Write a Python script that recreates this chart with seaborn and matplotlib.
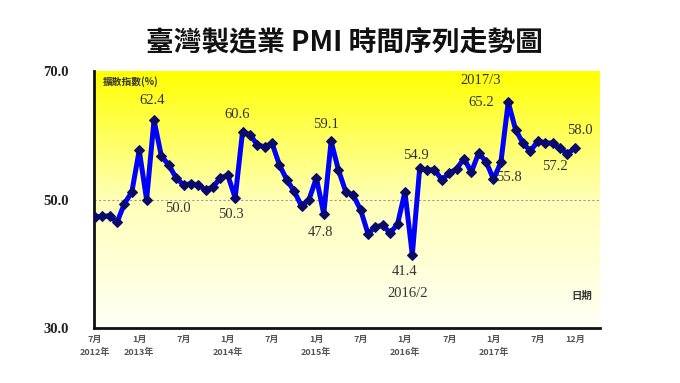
import numpy as np
import matplotlib
matplotlib.use("Agg")
import matplotlib.pyplot as plt
from matplotlib.colors import LinearSegmentedColormap
import seaborn as sns

# Taiwan manufacturing PMI, 2012/7 - 2017/12
pmi_2012 = [47.3, 47.4, 47.5, 46.5, 49.4, 51.2]
pmi_2013 = [57.7, 50.0, 62.4, 56.8, 55.4, 53.4, 52.3, 52.5, 52.3, 51.5, 52.0, 53.4]
pmi_2014 = [53.8, 50.3, 60.6, 60.1, 58.6, 58.2, 58.8, 55.4, 53.1, 51.3, 49.0, 50.0]
pmi_2015 = [53.4, 47.8, 59.1, 54.6, 51.2, 50.7, 48.4, 44.7, 45.8, 46.0, 44.8, 46.2]
pmi_2016 = [51.2, 41.4, 54.9, 54.6, 54.7, 53.1, 54.1, 54.8, 56.4, 54.3, 57.3, 55.9]
pmi_2017 = [53.2, 55.8, 65.2, 60.9, 58.8, 57.6, 59.1, 58.9, 58.8, 58.0, 57.2, 58.0]

pmi = pmi_2012 + pmi_2013 + pmi_2014 + pmi_2015 + pmi_2016 + pmi_2017
months = np.arange(len(pmi))

tick_pos = [0, 6, 12, 18, 24, 30, 36, 42, 48, 54, 60, 65]
tick_labels = ["7月\n2012年", "1月\n2013年", "7月", "1月\n2014年", "7月", "1月\n2015年",
               "7月", "1月\n2016年", "7月", "1月\n2017年", "7月", "12月"]

# (index, text, offset in px)
notes = [(8, "62.4", (-2, 20)), (7, "50.0", (31, -9)), (20, "60.6", (-5, 17)),
         (19, "50.3", (-4, -17)), (32, "59.1", (-5, 17)), (31, "47.8", (-3, -19)),
         (44, "54.9", (-4, 13)), (43, "41.4", (-8, -17)), (43, "2016/2", (-5, -39)),
         (56, "65.2", (-27, 0)), (56, "2017/3", (-28, 22)), (55, "55.8", (8, -15)),
         (64, "57.2", (-12, -13)), (65, "58.0", (5, 18))]

sns.set_style("white")
plt.rcParams['font.family'] = ['Liberation Serif', 'Noto Sans CJK TC']

fig = plt.figure(figsize=(6.8, 3.83), dpi=100)
ax = fig.add_axes([0.138, 0.1436, 0.744, 0.67])

# yellow gradient background
cmap = LinearSegmentedColormap.from_list("yel", ["#FFFFF6", "#FFFFB8", "#FFFF00"])
grad = np.linspace(0, 1, 256).reshape(-1, 1)
ax.imshow(grad, cmap=cmap, aspect='auto', origin='lower',
          extent=[0, 1, 0, 1], transform=ax.transAxes, zorder=0)

ax.axhline(50, color='#9a9a9a', linestyle=(0, (2, 2)), linewidth=0.8, zorder=1)

sns.lineplot(x=months, y=pmi, ax=ax, color='#0000FF', linewidth=3.6,
             marker='D', markersize=5, markerfacecolor='#0A0A6A',
             markeredgecolor='#0A0A6A', zorder=3)

ax.set_xlim(-0.15, 68.4)
ax.set_ylim(30, 70)
ax.set_yticks([30, 50, 70])
ax.set_yticklabels(["30.0", "50.0", "70.0"], fontsize=10.5, fontweight='bold',
                   family='Liberation Serif', color='#222222')
ax.set_xticks(tick_pos)
ax.set_xticklabels(tick_labels, fontsize=6.5, fontweight='bold',
                   family=['Noto Sans CJK TC'], color='#555555', linespacing=1.5)
ax.tick_params(axis='x', length=0, pad=5)
ax.tick_params(axis='y', direction='in', length=3, width=1.2, pad=18)
ax.set_xlabel("")
ax.set_ylabel("")

for side in ['top', 'right']:
    ax.spines[side].set_visible(False)
for side in ['left', 'bottom']:
    ax.spines[side].set_color('#111111')
    ax.spines[side].set_linewidth(2)

for i, txt, (dx, dy) in notes:
    ax.annotate(txt, xy=(months[i], pmi[i]), xytext=(dx * 0.72, dy * 0.72),
                textcoords='offset points', ha='center', va='center',
                fontsize=10.5, color='#333333', family='Liberation Serif', zorder=4)

ax.text(0.017, 0.96, "擴散指數(%)", transform=ax.transAxes, ha='left', va='center',
        fontsize=7, fontweight='bold', family=['Noto Sans CJK TC'], color='#333333')
ax.text(0.965, 0.125, "日期", transform=ax.transAxes, ha='center', va='center',
        fontsize=7.5, fontweight='bold', family=['Noto Sans CJK TC'], color='#333333')

fig.text(0.507, 1 - 42 / 383, "臺灣製造業 PMI 時間序列走勢圖", ha='center', va='center',
         fontsize=20, fontweight='bold', family=['Noto Sans CJK TC'], color='#111111')

fig.savefig("out.png", dpi=100)
